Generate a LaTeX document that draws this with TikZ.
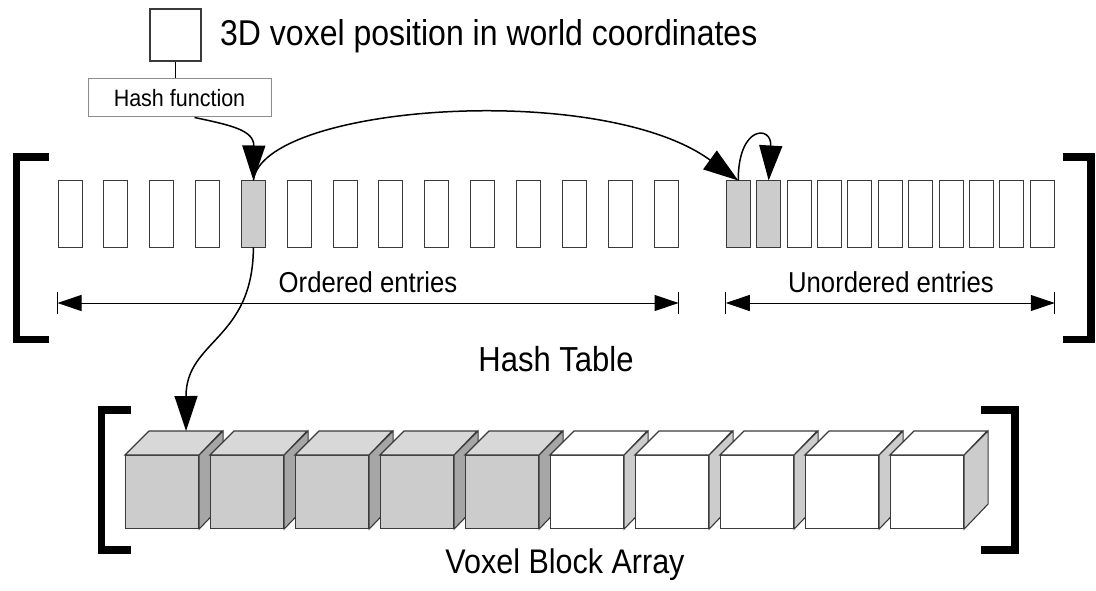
\documentclass[tikz,border=0pt]{standalone}
\usepackage{fontspec}
\setmainfont{Liberation Sans}
\usetikzlibrary{arrows.meta}

\definecolor{cellgray}{HTML}{CCCCCC}
\definecolor{topgray}{HTML}{D8D8D8}
\definecolor{sidegray}{HTML}{A6A6A6}
\definecolor{edgegray}{HTML}{3A3A3A}

\begin{document}
\begin{tikzpicture}
    [
      x=1pt, y=-1pt,
      entry/.style={draw=edgegray, line width=1pt, minimum width=24pt, minimum height=66pt, inner sep=0pt},
      bracket/.style={line width=7.5pt, line join=miter},
      bigarrow/.style={-{Triangle[length=35pt,width=23pt]}, line width=1.5pt},
      dimline/.style={{Triangle[length=24pt,width=16pt]}-{Triangle[length=24pt,width=16pt]}, line width=1pt},
      caption/.style={inner sep=0pt, anchor=base},
    ]
    \useasboundingbox (0,0) rectangle (1096,591);

    % input
    \node [draw=edgegray, line width=1.1pt, minimum width=51pt, minimum height=52pt, inner sep=0pt] (pos) at (175.5, 35) {};
    \node [anchor=base west, inner sep=0pt, font=\fontsize{32}{38}\selectfont] (postext) at (220, 46) {\scalebox{1}[1.12]{3D voxel position in world coordinates}};
    \node [draw=black!45, line width=1pt, minimum width=183pt, minimum height=38pt, inner sep=0pt, font=\fontsize{21.5}{26}\selectfont] (hash) at (179.5, 98) {\scalebox{1}[1.1]{Hash function}};
    \draw [line width=1.2pt] (pos.south) -- (pos.south |- hash.north);

    % ordered entries
    \foreach \i in {1,...,14} {
      \ifnum\i=5 \def\c{cellgray}\else \def\c{white}\fi
      \node [entry, fill=\c] (o\i) at (70 + 45.85*\i - 45.85, 214) {};
    }

    % unordered entries
    \foreach \j in {1,...,11} {
      \ifnum\j<3 \def\c{cellgray}\else \def\c{white}\fi
      \node [entry, fill=\c] (u\j) at (738.25 + 30.4*\j - 30.4, 214) {};
    }

    % extents
    \coordinate (dimrow) at (0, 303);
    \coordinate (ostart) at (o1.west |- dimrow);
    \coordinate (oend) at (o14.east |- dimrow);
    \coordinate (ustart) at (u1.west |- dimrow);
    \coordinate (uend) at (u11.east |- dimrow);
    \draw [dimline] (ostart) -- (oend);
    \draw [dimline] (ustart) -- (uend);
    \foreach \p in {ostart, oend, ustart, uend} {
      \draw [line width=1pt] ([yshift=11pt]\p) -- ([yshift=-11pt]\p);
    }
    \node [caption, font=\fontsize{25.7}{30}\selectfont] (ordlabel) at (368, 292) {\scalebox{1}[1.12]{Ordered entries}};
    \node [caption, font=\fontsize{25.7}{30}\selectfont] (unordlabel) at (891, 292) {\scalebox{1}[1.12]{Unordered entries}};
    \node [caption, font=\fontsize{31}{36}\selectfont] (tablelabel) at (556, 371) {\scalebox{1}[1.12]{Hash Table}};

    % voxel blocks
    \foreach \i in {1,...,10} {
      \ifnum\i<6 \def\cf{cellgray}\def\ct{topgray}\def\cs{sidegray}\else \def\cf{white}\def\ct{white}\def\cs{cellgray}\fi
      \def\x{125 + 85*\i - 85}
      \node [draw=edgegray, fill=\cf, line width=1.1pt, minimum size=73pt, inner sep=0pt, anchor=north west] (v\i) at (\x, 455) {};
      \draw [edgegray, fill=\ct, line width=1.1pt] (v\i.north west) -- ++(24,-24) -- ++(73,0) -- (v\i.north east) -- cycle;
      \draw [edgegray, fill=\cs, line width=1.1pt] (v\i.north east) -- ++(24,-24) -- ++(0,73) -- (v\i.south east) -- cycle;
    }
    \node [caption, font=\fontsize{30.5}{36}\selectfont] (blocklabel) at (565, 573) {\scalebox{1}[1.12]{Voxel Block Array}};

    % brackets
    \draw [bracket] (49,157) -- (16.7,157) -- (16.7,339.5) -- (49,339.5);
    \draw [bracket] (1063,157) -- (1091,157) -- (1091,339.5) -- (1063,339.5);
    \draw [bracket] (131,410) -- (101.5,410) -- (101.5,550) -- (131,550);
    \draw [bracket] (981,410) -- (1015,410) -- (1015,550) -- (981,550);

    % lookups
    \draw [bigarrow] ([xshift=15pt]hash.south) .. controls (230,125) and (254,130) .. (o5.north);
    \draw [bigarrow] (o5.north) .. controls (262,105) and (600,80) .. (u1.north);
    \draw [bigarrow] (u1.north) .. controls (738,125) and (772,125) .. (u2.north);
    \draw [bigarrow] (o5.south) .. controls (253,340) and (186,340) .. ([xshift=24pt,yshift=24pt]v1.north);
  \end{tikzpicture}
\end{document}
